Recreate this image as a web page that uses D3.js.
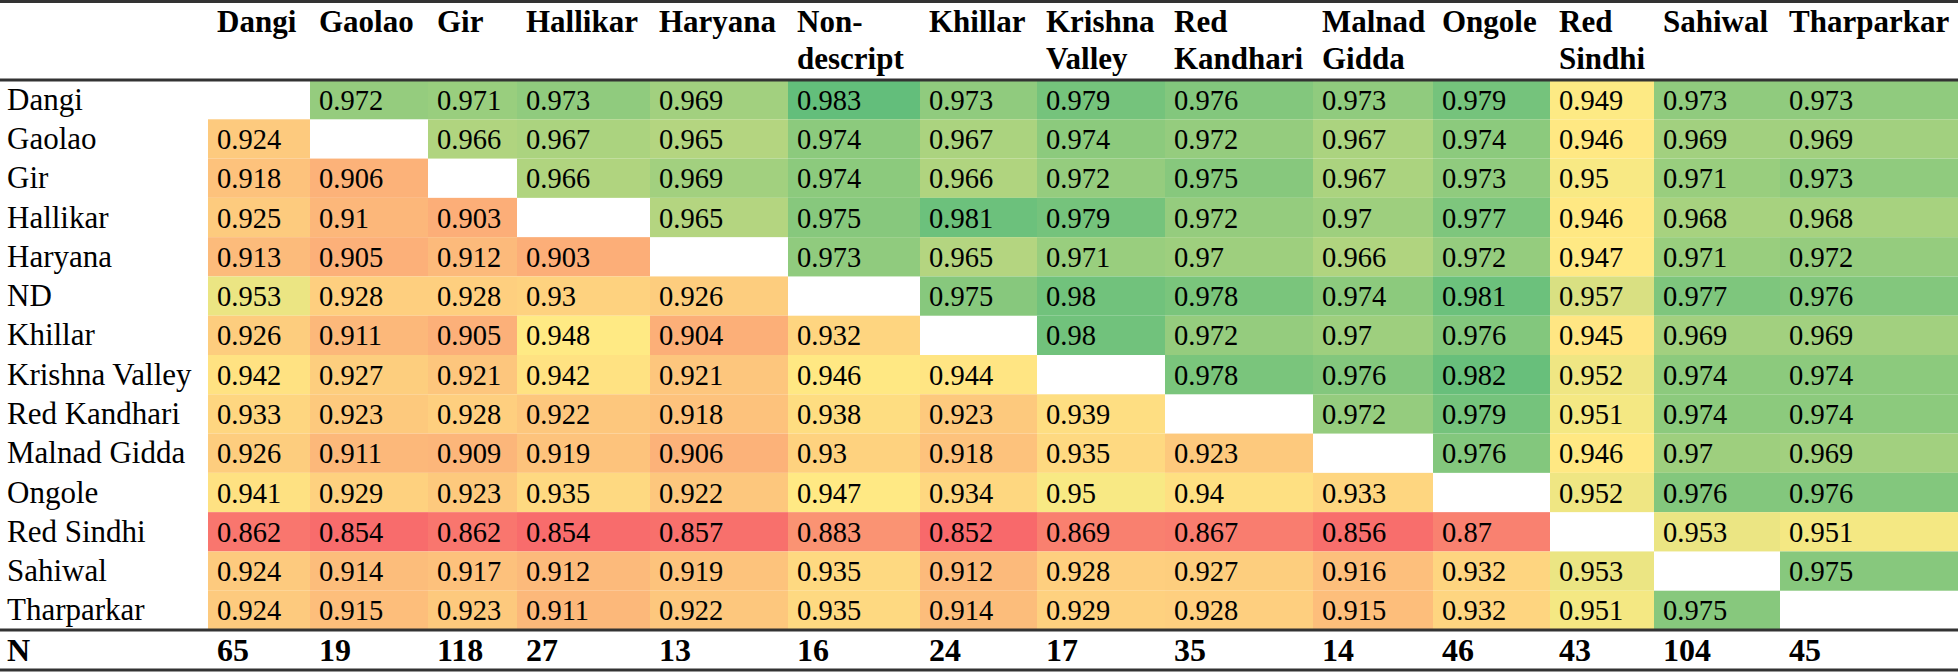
<!DOCTYPE html>
<html>
<head>
<meta charset="utf-8">
<script src="https://cdn.jsdelivr.net/npm/d3@7/dist/d3.min.js"></script>
<style>
  html, body { margin: 0; padding: 0; background: #fff; }
  svg { display: block; }
  text { font-family: "Liberation Serif", "Times New Roman", serif; fill: #000; }
</style>
</head>
<body>
<svg id="chart" width="1958" height="672"></svg>
<script>
// ---- DATA ----
const columns = ["Dangi","Gaolao","Gir","Hallikar","Haryana","Non-descript","Khillar","Krishna Valley","Red Kandhari","Malnad Gidda","Ongole","Red Sindhi","Sahiwal","Tharparkar"];
const headerLines = [["Dangi"],["Gaolao"],["Gir"],["Hallikar"],["Haryana"],["Non-","descript"],["Khillar"],["Krishna","Valley"],["Red","Kandhari"],["Malnad","Gidda"],["Ongole"],["Red","Sindhi"],["Sahiwal"],["Tharparkar"]];
const rowLabels = ["Dangi","Gaolao","Gir","Hallikar","Haryana","ND","Khillar","Krishna Valley","Red Kandhari","Malnad Gidda","Ongole","Red Sindhi","Sahiwal","Tharparkar"];
const rowDangi     = [null,0.972,0.971,0.973,0.969,0.983,0.973,0.979,0.976,0.973,0.979,0.949,0.973,0.973];
const rowGaolao    = [0.924,null,0.966,0.967,0.965,0.974,0.967,0.974,0.972,0.967,0.974,0.946,0.969,0.969];
const rowGir       = [0.918,0.906,null,0.966,0.969,0.974,0.966,0.972,0.975,0.967,0.973,0.95,0.971,0.973];
const rowHallikar  = [0.925,0.91,0.903,null,0.965,0.975,0.981,0.979,0.972,0.97,0.977,0.946,0.968,0.968];
const rowHaryana   = [0.913,0.905,0.912,0.903,null,0.973,0.965,0.971,0.97,0.966,0.972,0.947,0.971,0.972];
const rowND        = [0.953,0.928,0.928,0.93,0.926,null,0.975,0.98,0.978,0.974,0.981,0.957,0.977,0.976];
const rowKhillar   = [0.926,0.911,0.905,0.948,0.904,0.932,null,0.98,0.972,0.97,0.976,0.945,0.969,0.969];
const rowKrishna   = [0.942,0.927,0.921,0.942,0.921,0.946,0.944,null,0.978,0.976,0.982,0.952,0.974,0.974];
const rowKandhari  = [0.933,0.923,0.928,0.922,0.918,0.938,0.923,0.939,null,0.972,0.979,0.951,0.974,0.974];
const rowMalnad    = [0.926,0.911,0.909,0.919,0.906,0.93,0.918,0.935,0.923,null,0.976,0.946,0.97,0.969];
const rowOngole    = [0.941,0.929,0.923,0.935,0.922,0.947,0.934,0.95,0.94,0.933,null,0.952,0.976,0.976];
const rowRedSindhi = [0.862,0.854,0.862,0.854,0.857,0.883,0.852,0.869,0.867,0.856,0.87,null,0.953,0.951];
const rowSahiwal   = [0.924,0.914,0.917,0.912,0.919,0.935,0.912,0.928,0.927,0.916,0.932,0.953,null,0.975];
const rowTharparkar= [0.924,0.915,0.923,0.911,0.922,0.935,0.914,0.929,0.928,0.915,0.932,0.951,0.975,null];
const sampleN = [65,19,118,27,13,16,24,17,35,14,46,43,104,45];

const matrix = [rowDangi,rowGaolao,rowGir,rowHallikar,rowHaryana,rowND,rowKhillar,rowKrishna,rowKandhari,rowMalnad,rowOngole,rowRedSindhi,rowSahiwal,rowTharparkar];

// ---- LAYOUT (style, not data) ----
const W = 1958;
const labelColWidth = 208;
const colWidths = [102,118,89,133,138,132,117,128,148,120,117,104,126,178];
const colLefts = colWidths.reduce((acc, w, i) => { acc.push(i === 0 ? labelColWidth : acc[i-1] + colWidths[i-1]); return acc; }, []);
const tableTop = 80, tableBottom = 630, nBottom = 670;
const pad = 9;
const cellFont = 28.5, labelFont = 31, headFont = 31, nFont = 32;

const svg = d3.select("#chart");

const x = d3.scaleOrdinal().domain(columns).range(colLefts);
const wScale = d3.scaleOrdinal().domain(columns).range(colWidths);
const y = d3.scaleBand().domain(rowLabels).range([tableTop, tableBottom]).padding(0);

const allVals = matrix.flat().filter(v => v !== null);
const color = d3.scaleLinear()
  .domain([d3.min(allVals), d3.median(allVals), d3.max(allVals)])
  .range(["#F8696B", "#FFEB84", "#63BE7B"])
  .interpolate(d3.interpolateRgb);

const cells = [];
matrix.forEach((row, ri) => row.forEach((v, ci) => {
  if (v !== null) cells.push({ r: rowLabels[ri], c: columns[ci], v });
}));

// cells
svg.append("g").selectAll("rect").data(cells).join("rect")
  .attr("x", d => x(d.c))
  .attr("y", d => y(d.r))
  .attr("width", d => wScale(d.c))
  .attr("height", y.bandwidth())
  .attr("fill", d => color(d.v));

// cell text
svg.append("g").selectAll("text").data(cells).join("text")
  .attr("x", d => x(d.c) + pad)
  .attr("y", d => y(d.r) + y.bandwidth() / 2 + 10)
  .attr("font-size", cellFont)
  .text(d => String(d.v));

// row labels
svg.append("g").selectAll("text").data(rowLabels).join("text")
  .attr("x", 7)
  .attr("y", d => y(d) + y.bandwidth() / 2 + 10)
  .attr("font-size", labelFont)
  .text(d => d);

// header
const hdr = svg.append("g").selectAll("text").data(columns).join("text")
  .attr("font-size", headFont)
  .attr("font-weight", "bold");
hdr.each(function(c, i) {
  const t = d3.select(this);
  headerLines[i].forEach((line, li) => {
    t.append("tspan").attr("x", x(c) + pad).attr("y", 32 + li * 37).text(line);
  });
});

// N row
const nY = (tableBottom + nBottom) / 2 + 11;
svg.append("text").attr("x", 7).attr("y", nY).attr("font-size", nFont).attr("font-weight", "bold").text("N");
svg.append("g").selectAll("text").data(sampleN).join("text")
  .attr("x", (d, i) => x(columns[i]) + pad)
  .attr("y", nY)
  .attr("font-size", nFont)
  .attr("font-weight", "bold")
  .text(d => d);

// rules
[1.5, tableTop, tableBottom, nBottom].forEach(yy => {
  svg.append("line").attr("x1", 0).attr("x2", W).attr("y1", yy).attr("y2", yy)
    .attr("stroke", "#333").attr("stroke-width", 3);
});
</script>
</body>
</html>
